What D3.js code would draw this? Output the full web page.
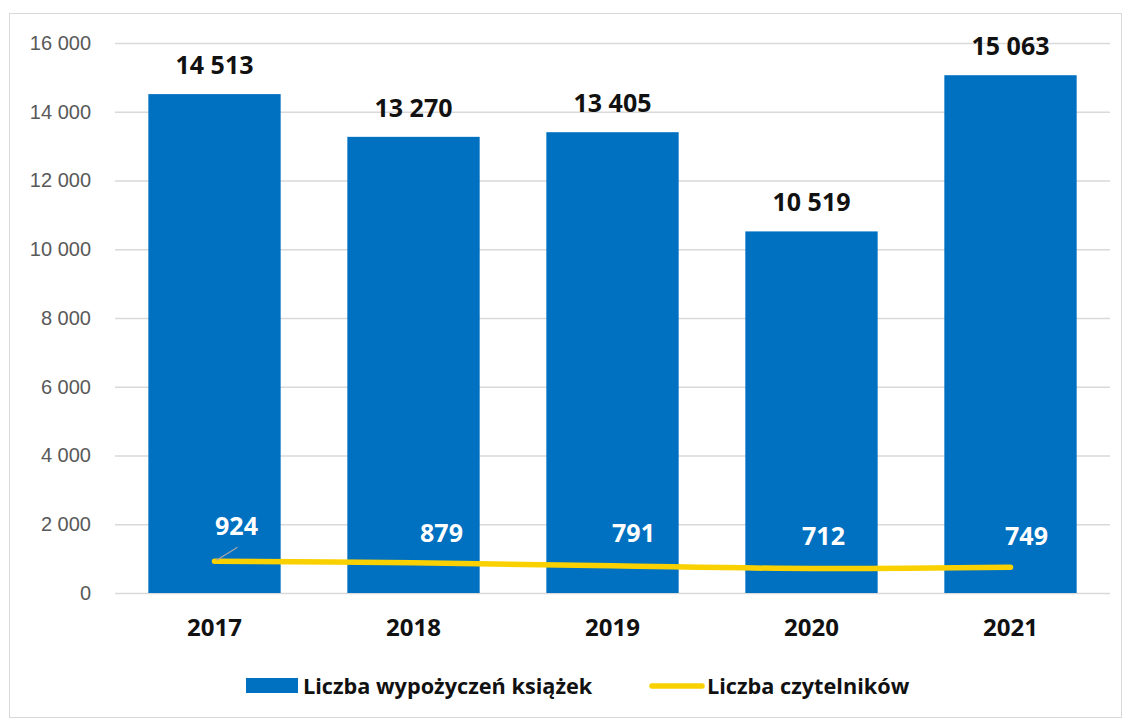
<!DOCTYPE html>
<html>
<head>
<meta charset="utf-8">
<script src="https://cdn.jsdelivr.net/npm/d3@7"></script>
<style>
  body { margin: 0; background: #fff; }
  svg { font-family: Lato, "Open Sans", sans-serif; }
  .bold { font-family: "Open Sans", Lato, sans-serif; font-weight: bold; }
</style>
</head>
<body>
<svg width="1127" height="720"></svg>
<script>
// chart data
const years = ['2017', '2018', '2019', '2020', '2021'];
const loans = [14513, 13270, 13405, 10519, 15063];
const readers = [924, 879, 791, 712, 749];
const yTicks = [0, 2000, 4000, 6000, 8000, 10000, 12000, 14000, 16000];
const seriesNames = ['Liczba wypożyczeń książek', 'Liczba czytelników'];

const plLocale = d3.formatLocale({ decimal: ',', thousands: ' ', grouping: [3], currency: ['', ' zł'] });
const fmt = plLocale.format(',d');

function drawChart(svgElement) {
  const svg = d3.select(svgElement);
  const blue = '#0070C0';
  const yellow = '#F9D100';

  // outer frame
  svg.append('rect')
    .attr('x', 9.5).attr('y', 13.5)
    .attr('width', 1112).attr('height', 704)
    .attr('fill', '#fff').attr('stroke', '#d9d9d9');

  const x = d3.scaleBand().domain(years).range([115, 1110]).paddingInner(0.335).paddingOuter(0.1675);
  const y = d3.scaleLinear().domain([0, 16000]).range([593, 43]);

  // gridlines + y labels
  const yAxis = svg.append('g')
    .attr('transform', 'translate(115,0)')
    .call(d3.axisLeft(y).tickValues(yTicks).tickSize(-995).tickPadding(24).tickFormat(fmt));
  yAxis.select('.domain').remove();
  yAxis.selectAll('.tick line').attr('stroke', '#d9d9d9').attr('stroke-width', 1.5);
  yAxis.selectAll('.tick text')
    .attr('fill', '#595959')
    .style('font-size', '20px');

  // bars
  svg.append('g').selectAll('rect')
    .data(loans)
    .enter()
    .append('rect')
    .attr('x', (d, i) => x(years[i]))
    .attr('y', d => y(d))
    .attr('width', x.bandwidth())
    .attr('height', d => y(0) - y(d))
    .attr('fill', blue);

  // bar labels
  svg.append('g').selectAll('text')
    .data(loans)
    .enter()
    .append('text')
    .attr('class', 'bold')
    .attr('x', (d, i) => x(years[i]) + x.bandwidth() / 2)
    .attr('y', d => y(d) - 20)
    .attr('text-anchor', 'middle')
    .style('font-size', '25px')
    .attr('fill', '#111')
    .text(d => fmt(d));

  // x axis labels
  const xAxis = svg.append('g')
    .attr('transform', 'translate(0,593)')
    .call(d3.axisBottom(x).tickSize(0).tickPadding(26));
  xAxis.select('.domain').remove();
  xAxis.selectAll('.tick text')
    .attr('class', 'bold')
    .attr('fill', '#111')
    .style('font-size', '24px');

  // readers line
  const cx = i => x(years[i]) + x.bandwidth() / 2;
  const line = d3.line()
    .x((d, i) => cx(i))
    .y(d => y(d))
    .curve(d3.curveCatmullRom.alpha(0.5));
  svg.append('path')
    .datum(readers)
    .attr('d', line)
    .attr('fill', 'none')
    .attr('stroke', yellow)
    .attr('stroke-width', 5.5)
    .attr('stroke-linecap', 'round');

  // line labels (offsets as in reference)
  const labelDx = [22, 28, 21, 12, 16];
  const labelY = [535, 542, 542, 545, 545];
  svg.append('line')
    .attr('x1', cx(0) + 2).attr('y1', y(readers[0]) - 1)
    .attr('x2', cx(0) + 23).attr('y2', y(readers[0]) - 14)
    .attr('stroke', '#a6a6a6').attr('stroke-width', 1.2);
  svg.append('g').selectAll('text')
    .data(readers)
    .enter()
    .append('text')
    .attr('class', 'bold')
    .attr('x', (d, i) => cx(i) + labelDx[i])
    .attr('y', (d, i) => labelY[i])
    .attr('text-anchor', 'middle')
    .style('font-size', '25px')
    .attr('fill', '#fff')
    .text(d => fmt(d));

  // legend
  const legend = svg.append('g').attr('class', 'bold').style('font-size', '21.7px').attr('fill', '#111');
  legend.append('rect').attr('x', 246).attr('y', 678).attr('width', 52).attr('height', 15).attr('fill', blue);
  legend.append('text').attr('x', 303).attr('y', 694).text(seriesNames[0]);
  legend.append('line')
    .attr('x1', 652).attr('y1', 686).attr('x2', 702).attr('y2', 686)
    .attr('stroke', yellow).attr('stroke-width', 5.5).attr('stroke-linecap', 'round');
  legend.append('text').attr('x', 707).attr('y', 694).text(seriesNames[1]);
}

window.addEventListener('load', () => {
  drawChart(document.querySelector('svg'));
});
</script>
</body>
</html>
